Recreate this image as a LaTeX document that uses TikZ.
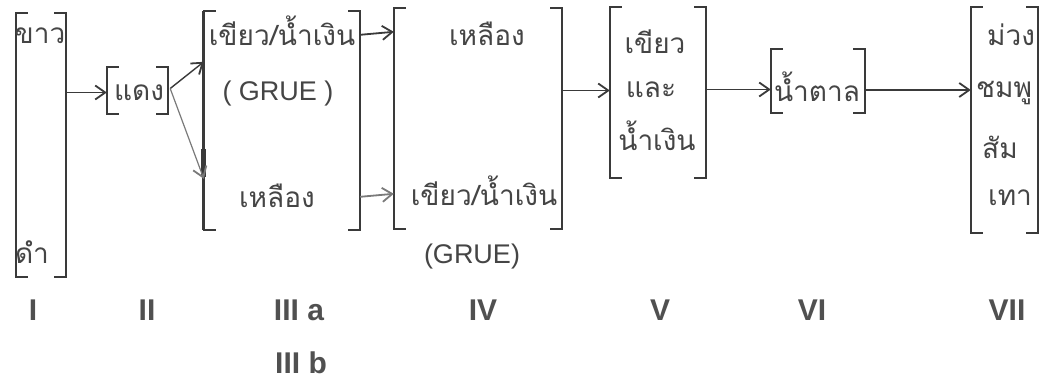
\documentclass[tikz,border=0pt]{standalone}
\usepackage{fontspec}
\setmainfont{Liberation Sans}
\newfontfamily\thaifont[Script=Thai]{Loma}
\usetikzlibrary{arrows.meta,calc}
\definecolor{ink}{HTML}{3A3A3A}
\definecolor{inkfaint}{HTML}{7A7A7A}
\definecolor{txt}{HTML}{454545}
\definecolor{labc}{HTML}{505050}

\tikzset{
  x=1pt, y=-1pt,
  frame/.style={draw=none, inner sep=0pt},
  bracket/.style={draw=ink, line width=1.8pt},
  conn/.style={draw=ink, line width=1.8pt,
    -{Straight Barb[length=10pt,width=14pt,line width=1.8pt]}},
  faintconn/.style={conn, draw=inkfaint},
  thaitext/.style={font=\thaifont\fontsize{28}{34}\selectfont, text=txt,
    inner sep=0pt, anchor=base},
  latintext/.style={font=\fontsize{27}{32}\selectfont, text=txt,
    inner sep=0pt, anchor=base},
  stage/.style={font=\bfseries\fontsize{30}{36}\selectfont, text=labc,
    inner sep=0pt, anchor=base},
}

% square brackets on both sides of a frame node
\newcommand\bracketpair[2][12]{%
  \draw[bracket] ([xshift=#1pt]#2.north west) -- (#2.north west)
    -- (#2.south west) -- ([xshift=#1pt]#2.south west);
  \draw[bracket] ([xshift=-#1pt]#2.north east) -- (#2.north east)
    -- (#2.south east) -- ([xshift=-#1pt]#2.south east);}

\begin{document}
\begin{tikzpicture}
\fill[white] (0,0) rectangle (1042,386);
\useasboundingbox (0,0) rectangle (1042,386);

% frames
\node[frame, minimum width=50pt,  minimum height=264pt] (b1) at (41,145)    {};
\node[frame, minimum width=61pt,  minimum height=47pt]  (b2) at (137.5,90.5) {};
\node[frame, minimum width=156pt, minimum height=219pt] (b3) at (282,120.5) {};
\node[frame, minimum width=168pt, minimum height=221pt] (b4) at (478,118.5) {};
\node[frame, minimum width=96pt,  minimum height=171pt] (b5) at (658,92.5)  {};
\node[frame, minimum width=94pt,  minimum height=64pt]  (b6) at (818,81)    {};
\node[frame, minimum width=67pt,  minimum height=226pt] (b7) at (1004.5,120) {};

\bracketpair{b1}
\bracketpair{b2}
\bracketpair{b3}
\bracketpair{b4}
\bracketpair{b5}
\bracketpair{b6}
\bracketpair{b7}
% heavier left bracket of stage III
\draw[bracket, line width=3.2pt] (b3.north west) -- (b3.south west);
\draw[bracket, line width=5pt] ($(b3.north west)+(0,138)$) -- ($(b3.north west)+(0,166)$);

% words
\node[thaitext] (w1a) at (40,43)   {ขาว};
\node[thaitext] (w1b) at (32,263)  {ดำ};
\node[thaitext] (w2)  at (139,100) {แดง};
\node[thaitext] (w3a) at (282,45)  {เขียว/น้ำเงิน};
\node[latintext] (w3g) at (278,100) {( GRUE )};
\node[thaitext] (w3b) at (277,207) {เหลือง};
\node[thaitext] (w4a) at (487,45)  {เหลือง};
\node[thaitext] (w4b) at (484,205) {เขียว/น้ำเงิน};
\node[latintext] (w4g) at (472,263) {(GRUE)};
\node[thaitext] (w5a) at (655,53)  {เขียว};
\node[thaitext] (w5b) at (651,97)  {และ};
\node[thaitext] (w5c) at (657,150) {น้ำเงิน};
\node[thaitext] (w6)  at (817,101) {น้ำตาล};
\node[thaitext, anchor=base west] (w7a) at (987,45)  {ม่วง};
\node[thaitext, anchor=base west] (w7b) at (976,97)  {ชมพู};
\node[thaitext, anchor=base west] (w7c) at (982,158) {สัม};
\node[thaitext, anchor=base west] (w7d) at (988,205) {เทา};

% stage labels
\node[stage] (s1)  at (33,320)   {I};
\node[stage] (s2)  at (147,320)  {II};
\node[stage] (s3a) at (299,320)  {III a};
\node[stage] (s3b) at (301,373)  {III b};
\node[stage] (s4)  at (483,320)  {IV};
\node[stage] (s5)  at (660,320)  {V};
\node[stage] (s6)  at (812,320)  {VI};
\node[stage] (s7)  at (1007,320) {VII};

% connectors
\coordinate (e3a) at ($(b3.north west)+(0,51)$);
\coordinate (e3b) at ($(b3.north west)+(0,168)$);
\draw[conn] ($(b2.west -| b1.east)+(0,2)$) -- ($(b2.west)+(0,2)$);
\draw[conn, line width=1.4pt] ($(b2.east)+(2,-2)$) -- (e3a);
\draw[faintconn, line width=1.2pt] ($(b2.east)+(2,-2)$) -- (e3b);
\draw[conn] ($(b3.north east)+(0,24)$) -- ($(b4.north west)+(0,24)$);
\draw[faintconn] ($(b3.north east)+(0,186)$) -- ($(b4.north west)+(0,186)$);
\draw[conn] ($(b4.east |- b5.west)+(0,-2)$) -- ($(b5.west)+(0,-2)$);
\draw[conn] ($(b5.east)+(0,-3)$) -- ($(b6.west |- b5.east)+(0,-3)$);
\draw[conn] ($(b6.east)+(0,9)$) -- ($(b7.west |- b6.east)+(0,9)$);
\end{tikzpicture}
\end{document}
